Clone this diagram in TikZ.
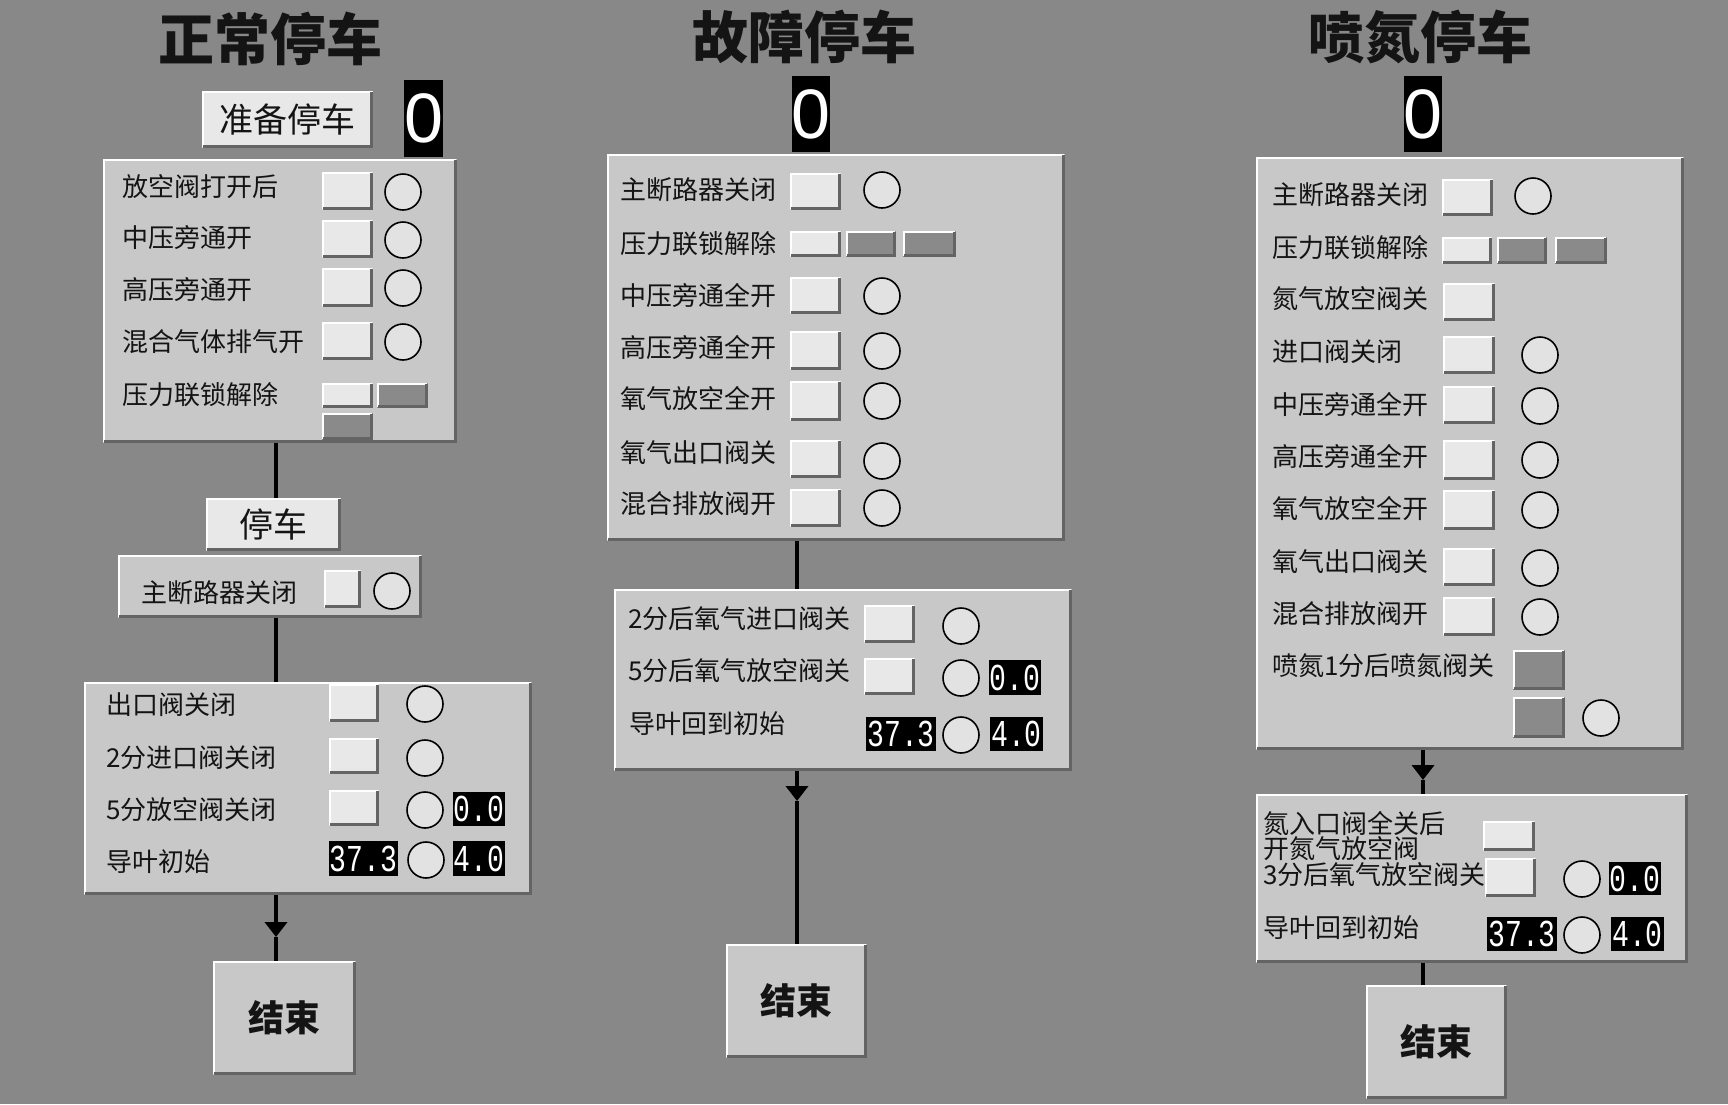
\documentclass[tikz,border=0pt]{standalone}
\usepackage{fontspec}
\setmainfont{Noto Sans CJK SC}
\newfontfamily\valfont{Liberation Mono}
\newfontfamily\zerofont{Liberation Sans}
\usetikzlibrary{arrows.meta}
\definecolor{bgc}{RGB}{136,136,136}
\definecolor{panelc}{RGB}{200,200,200}
\definecolor{btnc}{RGB}{232,232,232}
\definecolor{dbtnc}{RGB}{138,138,138}
\definecolor{lampc}{RGB}{226,226,226}
\definecolor{edgec}{RGB}{100,100,100}
\definecolor{txtc}{RGB}{20,20,20}
\newcommand\mkrect[7]{\node[#1, minimum width={(#5)-(#3)}, minimum height={(#6)-(#4)}] (#2) at ({((#3)+(#5))/2},{((#4)+(#6))/2}) {#7};}
\newcommand\mkbevel[1]{%
  \draw[hiedge] ([shift={(1,-1)}]#1.south west) -- ([shift={(1,1)}]#1.north west) -- ([shift={(-1,1)}]#1.north east);
  \draw[loedge] ([shift={(-1.5,1)}]#1.north east) -- ([shift={(-1.5,-1.5)}]#1.south east) -- ([shift={(1,-1.5)}]#1.south west);}
\newcommand\mkbox[7]{\mkrect{#1}{#2}{#3}{#4}{#5}{#6}{#7}\mkbevel{#2}}
\newcommand\mklamp[3]{\node[lamp] (#1) at (#2,#3) {};}
\newcommand\mklbl[4]{\node[lbl] (#1) at (#2,#3) {#4};}
\newcommand\mkval[6]{\mkrect{val}{#1}{#2}{#3}{#4}{#5}{\scalebox{0.74}[1]{#6}}}
\tikzset{
  panel/.style={fill=panelc},
  btn/.style={fill=btnc},
  dbtn/.style={fill=dbtnc},
  lamp/.style={circle, draw=black, line width=1.6pt, fill=lampc, minimum size=36pt, inner sep=0pt},
  lbl/.style={anchor=west, text=txtc, font=\fontsize{26}{28}\selectfont},
  val/.style={fill=black, text=white, font=\valfont\fontsize{38}{38}\selectfont},
  zerobox/.style={fill=black, text=white, font=\zerofont\fontsize{70}{70}\selectfont},
  ttl/.style={text=txtc, font=\bfseries\fontsize{56}{56}\selectfont},
  conn/.style={draw=black, line width=4pt},
  hiedge/.style={draw=white, line width=2.5pt},
  loedge/.style={draw=edgec, line width=3pt},
  endbox/.style={fill=panelc, text=txtc, font=\bfseries\fontsize{36}{36}\selectfont},
  btnlbl/.style={fill=btnc, text=txtc, font=\fontsize{34}{34}\selectfont},
  downtip/.style={-{Triangle[width=22pt,length=15pt]}},
}
\begin{document}
\begin{tikzpicture}[x=1pt, y=-1pt, every node/.style={inner sep=0pt, outer sep=0pt}]
\fill[bgc] (0,0) rectangle (1728,1104);
\useasboundingbox (0,0) rectangle (1728,1104);
\coordinate (k1) at (276,0);
\coordinate (k2) at (797,0);
\coordinate (k3) at (1423,0);
% ================= column 1 =================
\node[ttl] (t1) at (270,39) {正常停车};
\mkbox{btnlbl}{prep}{202}{91}{373}{148}{准备停车}
\mkrect{zerobox}{z1}{405}{80}{442}{157}{0}
\mkbox{panel}{p11}{103}{159}{457}{443}{}
\mklbl{l11}{122}{187}{放空阀打开后}
\mkbox{btn}{b11}{322}{172}{373}{210}{}
\mklamp{c11}{403}{192}
\mklbl{l12}{122}{238}{中压旁通开}
\mkbox{btn}{b12}{322}{220}{373}{258}{}
\mklamp{c12}{403}{240}
\mklbl{l13}{122}{290}{高压旁通开}
\mkbox{btn}{b13}{322}{268}{373}{307}{}
\mklamp{c13}{403}{288}
\mklbl{l14}{122}{342}{混合气体排气开}
\mkbox{btn}{b14}{322}{322}{373}{360}{}
\mklamp{c14}{403}{342}
\mklbl{l15}{122}{395}{压力联锁解除}
\mkbox{btn}{b15}{322}{383}{373}{408}{}
\mkbox{dbtn}{b16}{377}{383}{428}{408}{}
\mkbox{dbtn}{b17}{322}{413}{373}{440}{}
\mkbox{btnlbl}{stop}{206}{498}{341}{551}{停车}
\mkbox{panel}{p12}{118}{555}{422}{618}{}
\mklbl{l18}{141}{593}{主断路器关闭}
\mkbox{btn}{b18}{324}{570}{361}{608}{}
\mklamp{c18}{392}{591}
\mkbox{panel}{p13}{84}{682}{532}{895}{}
\mklbl{l19}{106}{705}{出口阀关闭}
\mkbox{btn}{b19}{329}{684}{379}{722}{}
\mklamp{c19}{425}{704}
\mklbl{l1a}{106}{758}{2分进口阀关闭}
\mkbox{btn}{b1a}{329}{738}{379}{774}{}
\mklamp{c1a}{425}{758}
\mklbl{l1b}{106}{810}{5分放空阀关闭}
\mkbox{btn}{b1b}{329}{790}{379}{826}{}
\mklamp{c1b}{425}{810}
\mkval{v11}{453}{792}{505}{826}{0.0}
\mklbl{l1c}{106}{862}{导叶初始}
\mkval{v12}{329}{841}{398}{876}{37.3}
\mklamp{c1c}{426}{860}
\mkval{v13}{453}{841}{505}{876}{4.0}
\mkbox{endbox}{e1}{213}{961}{356}{1075}{结束}
\draw[conn] (k1 |- p11.south) -- (k1 |- stop.north);
\draw[conn] (k1 |- p12.south) -- (k1 |- p13.north);
\coordinate (a1) at (276,937);
\draw[conn,downtip] (k1 |- p13.south) -- (a1);
\draw[conn] (a1) -- (k1 |- e1.north);
% ================= column 2 =================
\node[ttl] (t2) at (804,37) {故障停车};
\mkrect{zerobox}{z2}{792}{76}{830}{152}{0}
\mkbox{panel}{p21}{607}{154}{1065}{541}{}
\mklbl{l21}{620}{190}{主断路器关闭}
\mkbox{btn}{b21}{790}{173}{841}{210}{}
\mklamp{c21}{882}{190}
\mklbl{l22}{620}{244}{压力联锁解除}
\mkbox{btn}{b22}{790}{231}{841}{257}{}
\mkbox{dbtn}{b22a}{846}{231}{896}{257}{}
\mkbox{dbtn}{b22b}{903}{231}{956}{257}{}
\mklbl{l23}{620}{296}{中压旁通全开}
\mkbox{btn}{b23}{790}{277}{841}{314}{}
\mklamp{c23}{882}{296}
\mklbl{l24}{620}{348}{高压旁通全开}
\mkbox{btn}{b24}{790}{331}{841}{370}{}
\mklamp{c24}{882}{351}
\mklbl{l25}{620}{399}{氧气放空全开}
\mkbox{btn}{b25}{790}{381}{841}{421}{}
\mklamp{c25}{882}{401}
\mklbl{l26}{620}{453}{氧气出口阀关}
\mkbox{btn}{b26}{790}{440}{841}{478}{}
\mklamp{c26}{882}{461}
\mklbl{l27}{620}{504}{混合排放阀开}
\mkbox{btn}{b27}{790}{489}{841}{527}{}
\mklamp{c27}{882}{508}
\mkbox{panel}{p22}{614}{589}{1072}{771}{}
\mklbl{l28}{628}{619}{2分后氧气进口阀关}
\mkbox{btn}{b28}{864}{605}{915}{643}{}
\mklamp{c28}{961}{626}
\mklbl{l29}{628}{671}{5分后氧气放空阀关}
\mkbox{btn}{b29}{864}{658}{915}{695}{}
\mklamp{c29}{961}{678}
\mkval{v21}{989}{660}{1041}{695}{0.0}
\mklbl{l2a}{629}{724}{导叶回到初始}
\mkval{v22}{866}{717}{936}{751}{37.3}
\mklamp{c2a}{961}{735}
\mkval{v23}{990}{717}{1043}{751}{4.0}
\mkbox{endbox}{e2}{726}{944}{867}{1058}{结束}
\draw[conn] (k2 |- p21.south) -- (k2 |- p22.north);
\coordinate (a2) at (797,801);
\draw[conn,downtip] (k2 |- p22.south) -- (a2);
\draw[conn] (a2) -- (k2 |- e2.north);
% ================= column 3 =================
\node[ttl] (t3) at (1420,37) {喷氮停车};
\mkrect{zerobox}{z3}{1404}{76}{1442}{152}{0}
\mkbox{panel}{p31}{1256}{157}{1684}{750}{}
\mklbl{l31}{1272}{195}{主断路器关闭}
\mkbox{btn}{b31}{1442}{179}{1493}{216}{}
\mklamp{c31}{1533}{196}
\mklbl{l32}{1272}{248}{压力联锁解除}
\mkbox{btn}{b32}{1442}{237}{1492}{264}{}
\mkbox{dbtn}{b32a}{1497}{237}{1547}{264}{}
\mkbox{dbtn}{b32b}{1555}{237}{1607}{264}{}
\mklbl{l33}{1272}{299}{氮气放空阀关}
\mkbox{btn}{b33}{1443}{283}{1495}{321}{}
\mklbl{l34}{1272}{352}{进口阀关闭}
\mkbox{btn}{b34}{1443}{336}{1495}{374}{}
\mklamp{c34}{1540}{355}
\mklbl{l35}{1272}{405}{中压旁通全开}
\mkbox{btn}{b35}{1443}{386}{1495}{424}{}
\mklamp{c35}{1540}{406}
\mklbl{l36}{1272}{457}{高压旁通全开}
\mkbox{btn}{b36}{1443}{440}{1495}{480}{}
\mklamp{c36}{1540}{460}
\mklbl{l37}{1272}{509}{氧气放空全开}
\mkbox{btn}{b37}{1443}{490}{1495}{530}{}
\mklamp{c37}{1540}{510}
\mklbl{l38}{1272}{562}{氧气出口阀关}
\mkbox{btn}{b38}{1443}{548}{1495}{586}{}
\mklamp{c38}{1540}{568}
\mklbl{l39}{1272}{614}{混合排放阀开}
\mkbox{btn}{b39}{1443}{597}{1495}{636}{}
\mklamp{c39}{1540}{617}
\mklbl{l3a}{1272}{666}{喷氮1分后喷氮阀关}
\mkbox{dbtn}{b3a}{1513}{650}{1565}{690}{}
\mkbox{dbtn}{b3b}{1513}{697}{1565}{738}{}
\mklamp{c3b}{1601}{718}
\mkbox{panel}{p32}{1256}{794}{1688}{963}{}
\mklbl{l3c}{1263}{823}{氮入口阀全关后}
\mklbl{l3d}{1263}{849}{开氮气放空阀}
\mklbl{l3e}{1263}{875}{3分后氧气放空阀关}
\mkbox{btn}{b3c}{1483}{821}{1535}{851}{}
\mkbox{btn}{b3d}{1485}{858}{1536}{897}{}
\mklamp{c3d}{1582}{879}
\mkval{v31}{1609}{862}{1661}{895}{0.0}
\mklbl{l3f}{1263}{928}{导叶回到初始}
\mkval{v32}{1487}{917}{1557}{951}{37.3}
\mklamp{c3f}{1582}{935}
\mkval{v33}{1611}{917}{1664}{951}{4.0}
\mkbox{endbox}{e3}{1366}{985}{1507}{1099}{结束}
\coordinate (a3) at (1423,780);
\draw[conn,downtip] (k3 |- p31.south) -- (a3);
\draw[conn] (a3) -- (k3 |- p32.north);
\draw[conn] (k3 |- p32.south) -- (k3 |- e3.north);
\end{tikzpicture}
\end{document}
